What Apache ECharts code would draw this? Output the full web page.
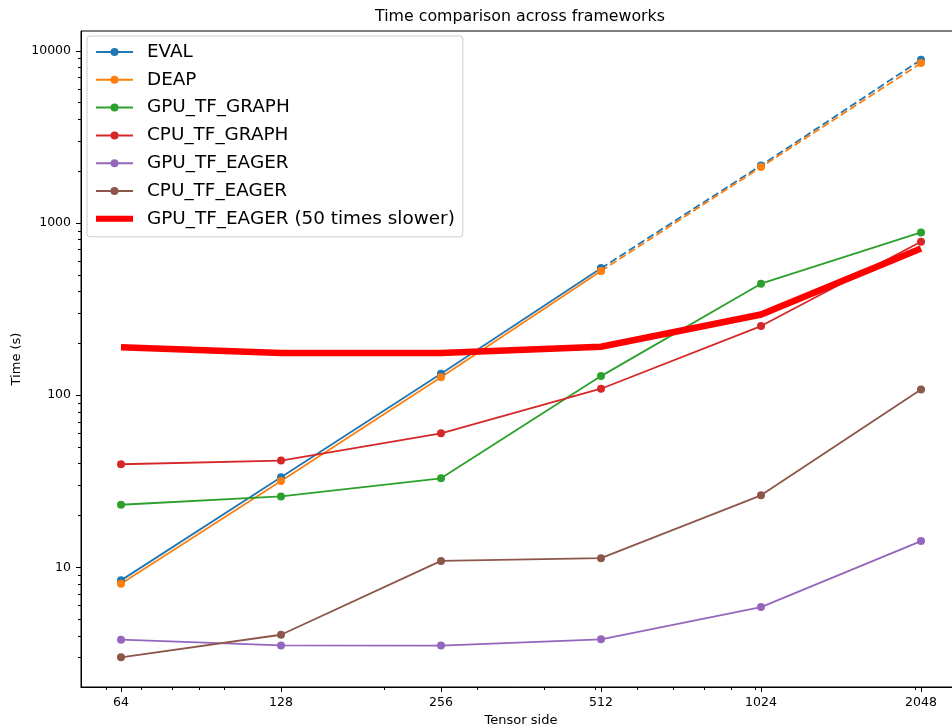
<!DOCTYPE html>
<html><head><meta charset="utf-8">
<script src="https://cdn.jsdelivr.net/npm/echarts@6/dist/echarts.min.js"></script>
<style>html,body{margin:0;padding:0;background:#fff;} #c{width:952px;height:726px;}</style>
</head><body><div id="c"></div>
<script>
// ---- data ----
const tensorSides = [64, 128, 256, 512, 1024, 2048];
const evalTimes = [8.4, 33.4, 133, 545, 2158, 8870];
const deapTimes = [8.04, 31.7, 127, 526, 2112, 8486];
const gpuTfGraph = [23.1, 25.8, 32.9, 129, 444, 881];
const cpuTfGraph = [39.7, 41.7, 60.0, 109, 252, 778];
const gpuTfEager = [3.80, 3.52, 3.51, 3.82, 5.88, 14.2];
const cpuTfEager = [3.00, 4.06, 10.9, 11.3, 26.2, 107.7];
const gpuTfEagerSlow = [190, 176, 176, 191, 294, 712];
const seriesNames = ['EVAL', 'DEAP', 'GPU_TF_GRAPH', 'CPU_TF_GRAPH', 'GPU_TF_EAGER', 'CPU_TF_EAGER', 'GPU_TF_EAGER (50 times slower)'];
const xTickValues = [64, 128, 256, 512, 1024, 2048];
const yTickValues = [10, 100, 1000, 10000];
const xMinorTicks = [60, 70, 80, 90, 100, 200, 300, 400, 500, 600, 700, 800, 900, 1000, 2000];
const yMinorTicks = [3, 4, 5, 6, 7, 8, 9, 20, 30, 40, 50, 60, 70, 80, 90, 200, 300, 400, 500, 600, 700, 800, 900, 2000, 3000, 4000, 5000, 6000, 7000, 8000, 9000];

const FONT = 'DejaVu Sans';
const C = ['#1f77b4', '#ff7f0e', '#2ca02c', '#d62728', '#9467bd', '#8c564b', '#ff0000'];

function pairs(ys, from, to) {
  return tensorSides.slice(from, to).map((x, i) => [x, ys[from + i]]);
}
function mk(name, color, data, dashed) {
  return {
    name: name, type: 'line', data: data,
    xAxisIndex: 0, yAxisIndex: 0,
    symbol: 'circle', symbolSize: 8, showSymbol: true,
    lineStyle: { color: color, width: 1.8, type: dashed ? [7.5, 3.5] : 'solid' },
    itemStyle: { color: color, borderWidth: 0 },
    emphasis: { disabled: true }, silent: true, animation: false
  };
}

const series = [
  mk('EVAL', C[0], pairs(evalTimes, 0, 4), false),
  mk('EVAL', C[0], pairs(evalTimes, 3, 6), true),
  mk('DEAP', C[1], pairs(deapTimes, 0, 4), false),
  mk('DEAP', C[1], pairs(deapTimes, 3, 6), true),
  mk('GPU_TF_GRAPH', C[2], pairs(gpuTfGraph, 0, 6), false),
  mk('CPU_TF_GRAPH', C[3], pairs(cpuTfGraph, 0, 6), false),
  mk('GPU_TF_EAGER', C[4], pairs(gpuTfEager, 0, 6), false),
  mk('CPU_TF_EAGER', C[5], pairs(cpuTfEager, 0, 6), false),
  {
    name: 'GPU_TF_EAGER (50 times slower)', type: 'line', data: pairs(gpuTfEagerSlow, 0, 6),
    xAxisIndex: 0, yAxisIndex: 0, symbol: 'none', showSymbol: false,
    lineStyle: { color: C[6], width: 6.5, join: 'miter' }, itemStyle: { color: C[6] },
    emphasis: { disabled: true }, silent: true, animation: false
  }
];

const legendData = seriesNames.map((n, i) => i === 6
  ? { name: n, itemStyle: { opacity: 0 }, lineStyle: { width: 6 } }
  : { name: n });

const XMIN = Math.pow(2, 5.75), XMAX = Math.pow(2, 11.25);
const YMIN = Math.pow(10, 0.305), YMAX = Math.pow(10, 4.115);
const txt = { fontFamily: FONT, color: '#000' };

const chart = echarts.init(document.getElementById('c'), null, { renderer: 'canvas' });
chart.setOption({
  backgroundColor: '#fff',
  animation: false,
  textStyle: { fontFamily: FONT },
  grid: { left: 81, top: 31, width: 880, bottom: 39, show: true, borderColor: '#000', borderWidth: 1,
          backgroundColor: 'transparent', containLabel: false, outerBoundsMode: 'none' },
  graphic: [{
    type: 'text', x: 520, y: 17,
    style: { text: 'Time comparison across frameworks', fontFamily: FONT, fontSize: 15.8, fill: '#000', align: 'center', verticalAlign: 'middle' }
  }],
  legend: {
    data: legendData, orient: 'vertical', left: 87, top: 36,
    itemWidth: 37, itemHeight: 10, itemGap: 7.8, itemTextGap: 15,
    padding: [6, 8, 8, 6],
    backgroundColor: 'rgba(255,255,255,0.8)', borderColor: '#cccccc', borderWidth: 1, borderRadius: 3,
    textStyle: { fontFamily: FONT, fontSize: 18.4, lineHeight: 20, color: '#000', padding: [0, 0, 0, 9] },
    selectedMode: false
  },
  xAxis: [{
    type: 'log', logBase: 2, min: XMIN, max: XMAX, position: 'bottom',
    name: 'Tensor side', nameLocation: 'middle', nameGap: 25,
    nameTextStyle: { fontFamily: FONT, fontSize: 13, color: '#000' },
    axisLine: { show: true, lineStyle: { color: '#000', width: 1 } },
    axisTick: { show: true, length: 5, lineStyle: { color: '#000' }, customValues: xTickValues },
    axisLabel: Object.assign({ fontSize: 12.5, margin: 9, customValues: xTickValues, formatter: v => String(Math.round(v)) }, txt),
    splitLine: { show: false }, minorTick: { show: false }
  }, {
    type: 'log', logBase: 2, min: XMIN, max: XMAX, position: 'bottom', gridIndex: 0,
    axisLine: { show: false },
    axisTick: { show: true, length: 3, lineStyle: { color: '#000' }, customValues: xMinorTicks },
    axisLabel: { show: false, customValues: xMinorTicks },
    splitLine: { show: false }
  }],
  yAxis: [{
    type: 'log', logBase: 10, min: YMIN, max: YMAX, position: 'left',
    name: 'Time (s)', nameLocation: 'middle', nameGap: 58, nameMoveOverlap: false,
    nameTextStyle: { fontFamily: FONT, fontSize: 13, color: '#000' },
    axisLine: { show: true, lineStyle: { color: '#000', width: 1 } },
    axisTick: { show: true, length: 5, lineStyle: { color: '#000' }, customValues: yTickValues },
    axisLabel: Object.assign({ fontSize: 12.5, margin: 10, customValues: yTickValues, formatter: v => String(Math.round(v)) }, txt),
    splitLine: { show: false }, minorTick: { show: false }
  }, {
    type: 'log', logBase: 10, min: YMIN, max: YMAX, position: 'left', gridIndex: 0, offset: 0,
    axisLine: { show: false },
    axisTick: { show: true, length: 3, lineStyle: { color: '#000' }, customValues: yMinorTicks },
    axisLabel: { show: false, customValues: yMinorTicks },
    splitLine: { show: false }
  }],
  series: series
});
</script>
</body></html>
